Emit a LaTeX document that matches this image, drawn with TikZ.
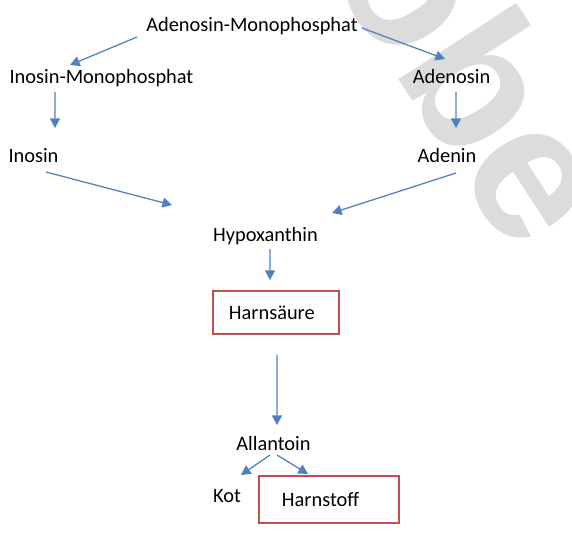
\documentclass[tikz,border=0pt]{standalone}
\usepackage{fontspec}
\setmainfont{Carlito}
\newfontfamily\wmfont{Liberation Sans}
\usetikzlibrary{arrows.meta}
\definecolor{flowBlue}{HTML}{4F81BD}
\definecolor{boxRed}{HTML}{C0504D}
\definecolor{wmGray}{HTML}{DCDCDC}

\begin{document}
\begin{tikzpicture}[x=0.025cm, y=-0.025cm,
    txt/.style={anchor=base, inner sep=0pt, font=\fontsize{14.5pt}{17pt}\selectfont},
    endbox/.style={draw=boxRed, line width=1.4pt, inner ysep=0pt, align=left,
      text width=2.35cm, font=\fontsize{14.5pt}{17pt}\selectfont},
    flow/.style={draw=flowBlue, line width=0.9pt,
      -{Triangle[length=2.4mm, width=2.5mm]}}]
  \useasboundingbox (0,0) rectangle (572,547);

  % ---- watermark ----
  \begin{scope}
    \clip (0,0) rectangle (572,547);
    \node[anchor=base west, inner sep=0pt, rotate=-57, text=wmGray,
      font=\wmfont\bfseries\fontsize{138pt}{138pt}\selectfont] (wm) at (215,-203) {Probe};
  \end{scope}

  % ---- left and right branch ----
  \node[txt] (amp) at (252,31) {Adenosin-Monophosphat};
  \node[txt] (imp) at (101.5,83) {Inosin-Monophosphat};
  \node[txt] (ado) at (451.5,83) {Adenosin};
  \node[txt] (ino) at (33.5,162) {Inosin};
  \node[txt] (ade) at (447,162) {Adenin};
  \node[txt] (hyp) at (265.5,241) {Hypoxanthin};

  % ---- end products ----
  \node[endbox, minimum height=1.075cm, inner xsep=0.4cm] (hs) at (276,312.5) {Harnsäure};
  \node[txt] (all) at (273.5,450) {Allantoin};
  \node[txt] (kot) at (227,502) {Kot};
  \node[endbox, minimum height=1.175cm, inner xsep=0.575cm] (hst) at (329,499.5) {Harnstoff};

  % ---- arrows ----
  \draw[flow] ([shift={(-115,6)}]amp.base) -- ([shift={(-31.5,-18)}]imp.base);
  \draw[flow] ([shift={(110,-3)}]amp.base) -- ([shift={(-6.5,-24)}]ado.base);
  \draw[flow] ([shift={(-46.5,9)}]imp.base) -- ([shift={(21.5,-34)}]ino.base);
  \draw[flow] ([shift={(4.5,9)}]ado.base) -- ([shift={(9,-34)}]ade.base);
  \draw[flow] ([shift={(12.5,10)}]ino.base) -- ([shift={(-93.5,-36)}]hyp.base);
  \draw[flow] ([shift={(9,11)}]ade.base) -- ([shift={(66.5,-28)}]hyp.base);
  \draw[flow] ([shift={(4.5,8)}]hyp.base) -- ([shift={(-6,-10)}]hs.north);
  \draw[flow] ([shift={(1,20)}]hs.south) -- ([shift={(3.5,-25)}]all.base);
  \draw[flow] ([shift={(-3.5,5)}]all.base) -- ([shift={(14,-27)}]kot.base);
  \draw[flow] ([shift={(3.5,5)}]all.base) -- ([shift={(-21,-1)}]hst.north);
\end{tikzpicture}
\end{document}
